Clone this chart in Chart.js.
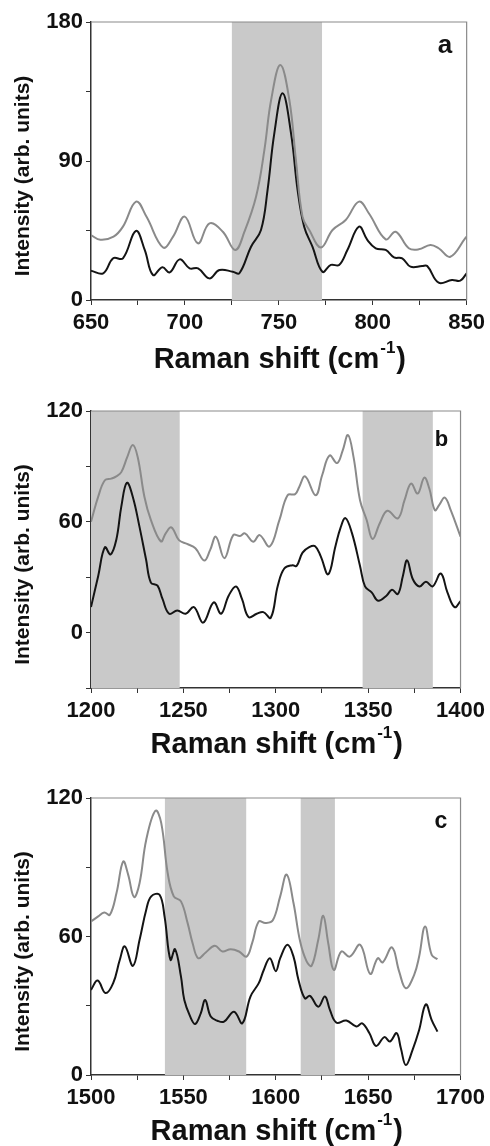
<!DOCTYPE html>
<html>
<head>
<meta charset="utf-8">
<script src="https://cdn.jsdelivr.net/npm/chart.js@4.4.1/dist/chart.umd.min.js"></script>
<style>
  body { margin: 0; background: #fff; }
  #wrap { position: relative; width: 490px; height: 1146px; }
  canvas { position: absolute; left: 0; }
</style>
</head>
<body>
<div id="wrap">
  <canvas id="chartA" width="490" height="385" style="top:0px"></canvas>
  <canvas id="chartB" width="490" height="380" style="top:385px"></canvas>
  <canvas id="chartC" width="490" height="381" style="top:765px"></canvas>
</div>
<script>
// panel a (650-850 cm-1)
const aGrayX = [650, 655, 662, 667, 674, 679.5, 688.4, 693.7, 699.9, 706.9, 713.1, 720.2, 726.8, 731.7, 737.9, 742.3, 745.9, 750.8, 755.6, 759.1, 762.6, 766.2, 772.4, 778.6, 785.6, 792.7, 798, 806.9, 812.2, 819.2, 824.5, 830.7, 835.1, 841.3, 849.3, 850];
const aGrayY = [42, 39, 41, 47.5, 63.7, 54, 34, 41, 54, 36.7, 49.6, 44.2, 32.4, 44.2, 67, 97, 129.5, 152.2, 129.5, 90.6, 54, 45.3, 34, 45.3, 51.8, 63.7, 56, 39.3, 44.2, 33.5, 32.8, 35.6, 33.5, 28, 40, 41];
const aBlackX = [650, 656.5, 661.8, 667, 673.9, 678.6, 683, 688, 691.9, 697.2, 702.5, 707, 713, 718.4, 725.5, 729, 735.2, 740.5, 744, 747.6, 752, 756.5, 760, 763.5, 767.9, 773.2, 777.7, 782.1, 786.5, 792.7, 797.1, 801.6, 806.9, 811.3, 815.7, 820.1, 826.3, 829, 835.1, 842.2, 846.6, 850];
const aBlackY = [19, 17.3, 27, 27, 44.7, 32.4, 16.2, 21.2, 17.9, 26.3, 20.5, 20.5, 14, 19.4, 18.3, 17.3, 34.5, 45.3, 71.2, 107.9, 133.8, 107.9, 71.2, 47.5, 34.5, 18.3, 22.7, 22.7, 32.4, 47.5, 38.9, 33.5, 32.4, 27.6, 27, 21.6, 22, 22, 11.2, 13, 12.5, 17.3];
const aBands = [[725, 773]];
const aXLabels = [650, 700, 750, 800, 850];
const aYLabels = [0, 90, 180];

// panel b (1200-1400 cm-1)
const bGrayX = [1200, 1203.9, 1207.5, 1211, 1213.7, 1216.4, 1219.6, 1222.6, 1225.3, 1228.9, 1232.4, 1237.8, 1240.5, 1243.5, 1247.6, 1252, 1256.5, 1261.3, 1264.5, 1267.6, 1272.2, 1277, 1280.6, 1283.3, 1287.8, 1291.3, 1296.7, 1302, 1306.4, 1310.5, 1312.7, 1315.9, 1321.6, 1325.1, 1329.1, 1333.2, 1336.2, 1339.1, 1342.1, 1345.6, 1349.2, 1352.4, 1356.3, 1360.4, 1366.1, 1369.7, 1373.2, 1376.8, 1380.4, 1383.1, 1386.1, 1388.4, 1391.5, 1394.7, 1400];
const bGrayY = [60, 73.6, 82.5, 83.4, 84.6, 86.9, 95, 101.6, 95, 73.6, 61, 49.4, 53.9, 57, 50.1, 48, 45.7, 39, 44.8, 51.9, 40.3, 52.8, 52.3, 53.7, 49.2, 52.8, 46.6, 61, 74.4, 75, 78.9, 84.6, 74.4, 85.2, 95.9, 91.8, 98.6, 107, 95, 71.7, 61, 50.7, 59.2, 66, 61.9, 71.7, 80.7, 75.3, 83.9, 78, 66.3, 69, 73.1, 66.3, 52];
const bBlackX = [1200, 1203.9, 1207.5, 1210.6, 1213.7, 1216.4, 1219.4, 1222.6, 1226.2, 1229.8, 1232.4, 1236, 1238.7, 1242.3, 1246.7, 1251.2, 1255.7, 1260.7, 1266.4, 1270.4, 1274.5, 1278.5, 1281.7, 1285.3, 1289.7, 1293.3, 1297.3, 1301.1, 1304.6, 1309.1, 1311.3, 1314.5, 1318.1, 1321.3, 1324.3, 1328.4, 1332.3, 1335, 1337.7, 1341.2, 1345.6, 1348.3, 1351.9, 1355.4, 1359.9, 1362.9, 1366.1, 1368.8, 1371.1, 1374.2, 1377.7, 1381.3, 1384.9, 1389.3, 1392.9, 1396.8, 1400];
const bBlackY = [13.8, 30.7, 46.2, 42.3, 50.3, 68.2, 81.1, 73.6, 57.5, 39.6, 27.1, 25.4, 18.2, 10.2, 12, 10.2, 13.8, 5.4, 16.4, 10.2, 20, 25, 18.2, 8.4, 10.2, 11.1, 8, 25.4, 34.7, 36.5, 36.1, 43.3, 46.3, 46.8, 41.4, 31.6, 46.8, 56.6, 62, 54, 36.1, 25, 21.8, 17.3, 20, 23.2, 20.9, 30.7, 39.1, 28.9, 25, 27.5, 25, 32, 21.8, 13.8, 17];
const bBands = [[1200, 1248], [1347, 1385]];
const bXLabels = [1200, 1250, 1300, 1350, 1400];
const bYLabels = [0, 60, 120];

// panel c (1500-1700 cm-1)
const cGrayX = [1500, 1503.9, 1507.2, 1510.2, 1513.8, 1517.4, 1520.1, 1523.3, 1526.3, 1529.9, 1534.9, 1538, 1541.5, 1544.8, 1548.7, 1552.3, 1555, 1558, 1562.1, 1567, 1571.1, 1575.6, 1580.1, 1584.2, 1587.2, 1590.8, 1594.4, 1598.4, 1602.4, 1605.9, 1609.6, 1613.2, 1616.7, 1619.4, 1623, 1625.7, 1628.4, 1631.4, 1635.5, 1640, 1645.7, 1651.1, 1655.2, 1657.9, 1662.9, 1666.8, 1670.4, 1674.9, 1677.6, 1680.8, 1684.4, 1687.5];
const cGrayY = [66.5, 68.7, 70.4, 69.4, 78.8, 92.5, 86.8, 77.1, 83.2, 101.9, 114.5, 109.2, 87.5, 77.4, 75.2, 65.8, 57.1, 50.6, 53.1, 56, 53.5, 54.5, 53.5, 51.3, 57.1, 66.5, 65.8, 67, 77.4, 86.8, 74.5, 57.8, 49.2, 47.3, 58.6, 69, 57.1, 45.5, 53.5, 51.3, 56.4, 43.8, 50.6, 48.8, 55.3, 44.8, 37.6, 43.4, 51.3, 64.3, 52, 50.2];
const cBlackX = [1500, 1503.6, 1507.9, 1512, 1515.6, 1518.3, 1522.7, 1526.3, 1529.9, 1532.6, 1537.1, 1539.8, 1543, 1545.5, 1548.7, 1550.5, 1553.7, 1556.4, 1559.4, 1561.8, 1564.8, 1568.4, 1572, 1577.4, 1581.9, 1586.3, 1590.8, 1593.5, 1596.8, 1600, 1602.4, 1606.3, 1609.6, 1612.3, 1615.8, 1618.5, 1623, 1626.6, 1629.3, 1632.8, 1638.2, 1643.6, 1646.8, 1650.7, 1654.3, 1658.8, 1661.8, 1665.4, 1667.7, 1670.4, 1674, 1677.6, 1681.2, 1684.4, 1687.5];
const cBlackY = [36.9, 40.9, 35.5, 39.8, 49.9, 55.7, 47.3, 58.6, 71.6, 77.4, 78.1, 68.7, 49.9, 54.5, 42.6, 32.5, 25.3, 22.1, 26.7, 32.5, 25.3, 23.5, 23.1, 27.4, 22.4, 34, 39.8, 45.5, 50.6, 45, 50.6, 56.4, 51.3, 41.2, 33.2, 34.3, 29.6, 34, 28.2, 22.7, 23.6, 21, 22.4, 18.1, 12.6, 16.4, 14.5, 18.1, 11.6, 4.3, 10.8, 19.5, 30.6, 23.8, 18.8];
const cBands = [[1540, 1584], [1613.5, 1632]];
const cXLabels = [1500, 1550, 1600, 1650, 1700];
const cYLabels = [0, 60, 120];

const FONT = "'Liberation Sans', Arial, sans-serif";
const GRAY = "#8a8a8a";
const BLACK = "#141414";
const SHADE = "#c9c9c9";

function pts(xs, ys) {
  return xs.map((x, i) => ({ x: x, y: ys[i] }));
}

// shaded bands + top/right frame + titles + panel letter
const decor = {
  id: "decor",
  beforeDatasetsDraw(chart, args, opts) {
    const { ctx, chartArea } = chart;
    const xs = chart.scales.x;
    ctx.save();
    ctx.fillStyle = SHADE;
    opts.bands.forEach((b) => {
      const x0 = xs.getPixelForValue(b[0]);
      const x1 = xs.getPixelForValue(b[1]);
      ctx.fillRect(x0, chartArea.top, x1 - x0, chartArea.bottom - chartArea.top);
    });
    ctx.restore();
  },
  afterDraw(chart, args, opts) {
    const { ctx, chartArea } = chart;
    ctx.save();
    // top and right frame
    ctx.strokeStyle = "#8a8a8a";
    ctx.lineWidth = 1.2;
    ctx.beginPath();
    ctx.moveTo(chartArea.left, chartArea.top);
    ctx.lineTo(chartArea.right, chartArea.top);
    ctx.lineTo(chartArea.right, chartArea.bottom);
    ctx.stroke();

    ctx.fillStyle = "#111";
    // x title with superscript
    const main = "bold 29px " + FONT;
    const sup = "bold 17px " + FONT;
    const t1 = "Raman shift (cm";
    const t2 = "-1";
    const t3 = ")";
    ctx.font = main;
    const w1 = ctx.measureText(t1).width;
    const w3 = ctx.measureText(t3).width;
    ctx.font = sup;
    const w2 = ctx.measureText(t2).width;
    let x = (chartArea.left + chartArea.right) / 2 - (w1 + w2 + w3) / 2;
    const base = chartArea.bottom + opts.titleOffset;
    ctx.textAlign = "left";
    ctx.textBaseline = "alphabetic";
    ctx.font = main;
    ctx.fillText(t1, x, base);
    ctx.font = sup;
    ctx.fillText(t2, x + w1 + 1, base - 15);
    ctx.font = main;
    ctx.fillText(t3, x + w1 + w2 + 2, base);

    // y title
    ctx.save();
    ctx.translate(23, (chartArea.top + chartArea.bottom) / 2 + 15);
    ctx.rotate(-Math.PI / 2);
    ctx.font = "bold 21px " + FONT;
    ctx.textAlign = "center";
    ctx.textBaseline = "middle";
    ctx.fillText("Intensity (arb. units)", 0, 0);
    ctx.restore();

    // panel letter
    ctx.font = "bold " + opts.letterSize + "px " + FONT;
    ctx.textAlign = "center";
    ctx.textBaseline = "alphabetic";
    ctx.fillText(opts.letter, opts.letterX, opts.letterY);
    ctx.restore();
  },
};

function makePanel(id, cfg) {
  new Chart(document.getElementById(id), {
    type: "line",
    data: {
      datasets: [
        { data: pts(cfg.grayX, cfg.grayY), borderColor: GRAY, borderWidth: 2 },
        { data: pts(cfg.blackX, cfg.blackY), borderColor: BLACK, borderWidth: 2 },
      ],
    },
    plugins: [decor],
    options: {
      responsive: false,
      animation: false,
      events: [],
      layout: { padding: { top: cfg.padTop, right: cfg.padRight, left: 0, bottom: 0 } },
      elements: {
        point: { radius: 0 },
        line: { tension: 0.4, fill: false },
      },
      plugins: {
        legend: { display: false },
        tooltip: { enabled: false },
        decor: {
          bands: cfg.bands,
          titleOffset: cfg.titleOffset,
          letter: cfg.letter,
          letterSize: cfg.letterSize,
          letterX: cfg.letterX,
          letterY: cfg.letterY,
        },
      },
      scales: {
        x: {
          type: "linear",
          min: cfg.xLabels[0],
          max: cfg.xLabels[cfg.xLabels.length - 1],
          afterFit: (s) => { s.height = cfg.xHeight; },
          border: { display: true, color: "#333", width: 1.5 },
          grid: { drawOnChartArea: false, drawTicks: true, tickLength: 5, color: "#333" },
          ticks: {
            stepSize: 25,
            autoSkip: false,
            maxRotation: 0,
            padding: 5,
            color: "#111",
            font: { family: FONT, size: 22, weight: "bold" },
            callback: (v) => (cfg.xLabels.includes(v) ? String(v) : ""),
          },
        },
        y: {
          min: cfg.yMin,
          max: cfg.yLabels[cfg.yLabels.length - 1],
          afterFit: (s) => { s.width = 91; },
          border: { display: true, color: "#333", width: 1.5 },
          grid: { drawOnChartArea: false, drawTicks: true, tickLength: 5, color: "#333" },
          ticks: {
            stepSize: cfg.yStep,
            autoSkip: false,
            padding: 3,
            color: "#111",
            font: { family: FONT, size: 22, weight: "bold" },
            callback: (v) => (cfg.yLabels.includes(v) ? String(v) : ""),
          },
        },
      },
    },
  });
}

makePanel("chartA", {
  grayX: aGrayX, grayY: aGrayY, blackX: aBlackX, blackY: aBlackY,
  bands: aBands, xLabels: aXLabels, yLabels: aYLabels, yMin: 0, yStep: 45,
  padTop: 22, padRight: 23, xHeight: 85, titleOffset: 68,
  letter: "a", letterSize: 26, letterX: 445, letterY: 53,
});
makePanel("chartB", {
  grayX: bGrayX, grayY: bGrayY, blackX: bBlackX, blackY: bBlackY,
  bands: bBands, xLabels: bXLabels, yLabels: bYLabels, yMin: -30, yStep: 30,
  padTop: 26, padRight: 25, xHeight: 77, titleOffset: 65,
  letter: "b", letterSize: 22, letterX: 441.5, letterY: 60.5,
});
makePanel("chartC", {
  grayX: cGrayX, grayY: cGrayY, blackX: cBlackX, blackY: cBlackY,
  bands: cBands, xLabels: cXLabels, yLabels: cYLabels, yMin: 0, yStep: 30,
  padTop: 33, padRight: 27, xHeight: 71, titleOffset: 65,
  letter: "c", letterSize: 23, letterX: 441, letterY: 63,
});
</script>
</body>
</html>
